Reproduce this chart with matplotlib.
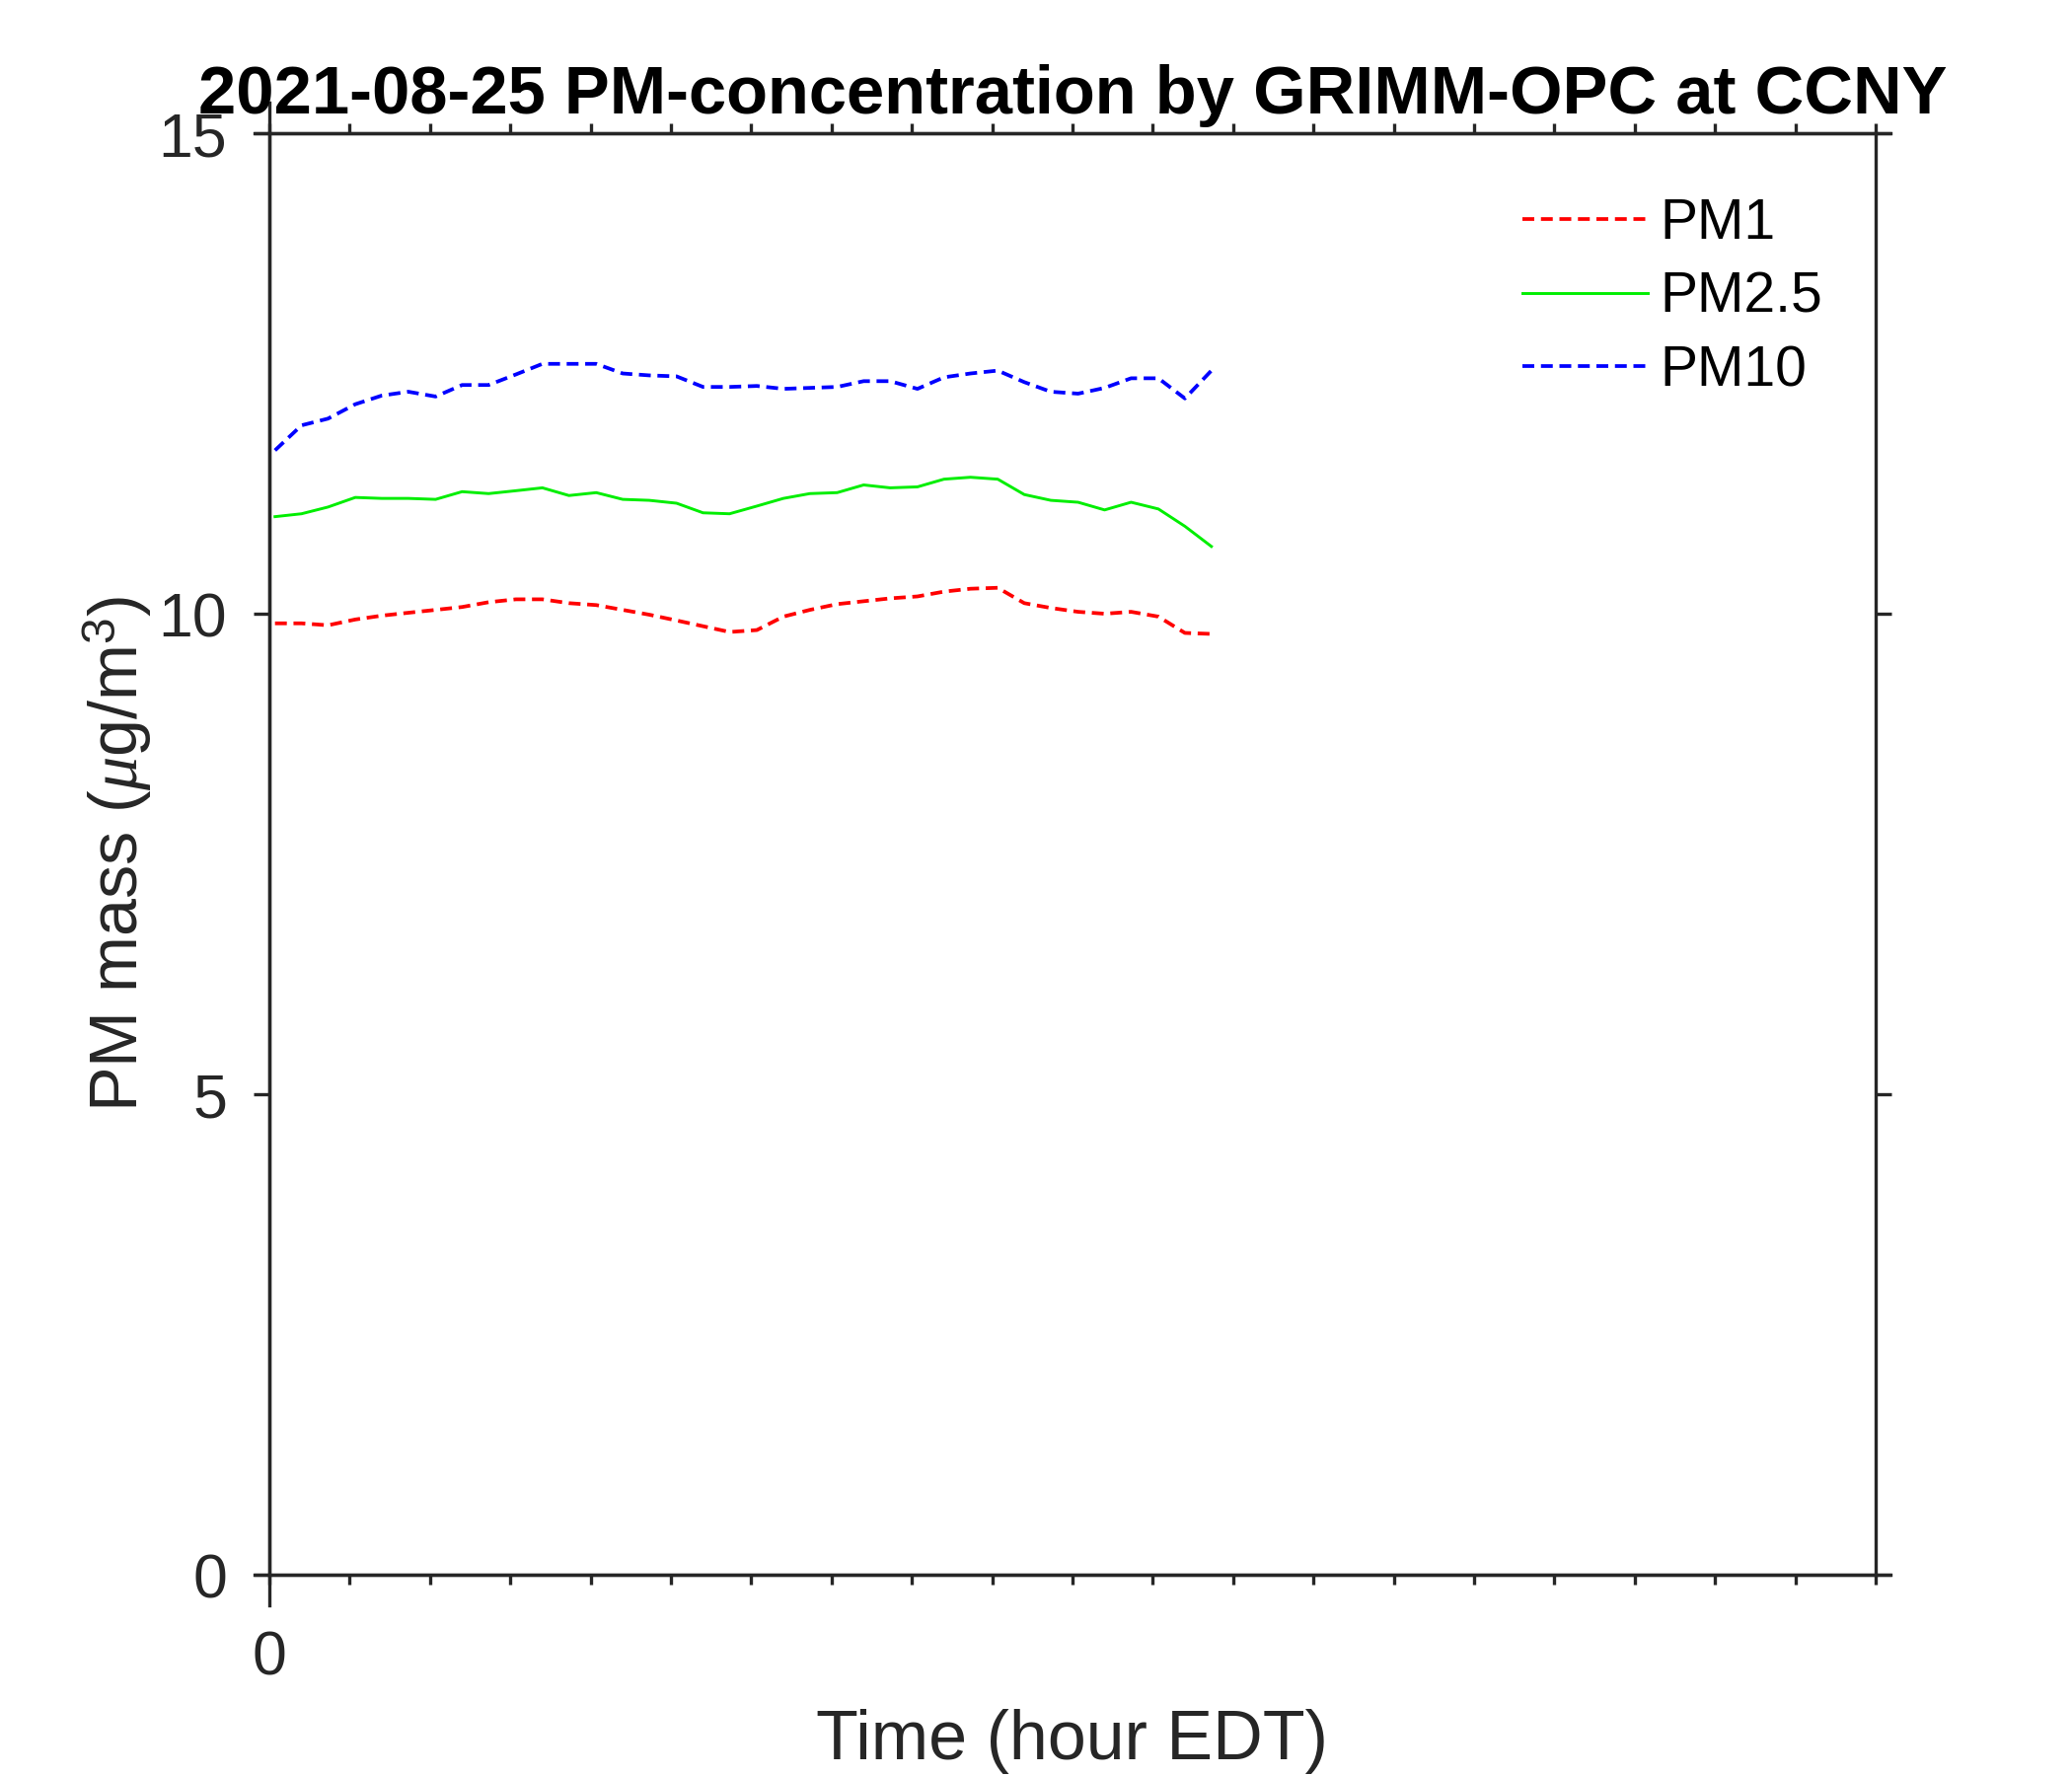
import matplotlib
matplotlib.use("Agg")
import matplotlib.pyplot as plt

# %%
# Data (20-min averages, hours EDT)

time_hr = [0.07, 0.40, 0.73, 1.07, 1.40, 1.73, 2.07, 2.40, 2.73, 3.07, 3.40, 3.73,
           4.07, 4.40, 4.73, 5.07, 5.40, 5.73, 6.07, 6.40, 6.73, 7.07, 7.40, 7.73,
           8.07, 8.40, 8.73, 9.07, 9.40, 9.73, 10.07, 10.40, 10.73, 11.07, 11.40, 11.73]

pm1 = [9.90, 9.90, 9.88, 9.94, 9.98, 10.01, 10.04, 10.07, 10.12, 10.15, 10.15, 10.11,
       10.09, 10.04, 9.99, 9.93, 9.87, 9.81, 9.83, 9.97, 10.04, 10.10, 10.13, 10.16,
       10.18, 10.23, 10.26, 10.27, 10.11, 10.06, 10.02, 10.00, 10.02, 9.97, 9.80, 9.79]

pm25 = [11.01, 11.04, 11.11, 11.21, 11.20, 11.20, 11.19, 11.27, 11.25, 11.28, 11.31, 11.23,
        11.26, 11.19, 11.18, 11.15, 11.05, 11.04, 11.12, 11.20, 11.25, 11.26, 11.34, 11.31,
        11.32, 11.40, 11.42, 11.40, 11.24, 11.18, 11.16, 11.08, 11.16, 11.09, 10.91, 10.70]

pm10 = [11.70, 11.96, 12.03, 12.18, 12.27, 12.31, 12.26, 12.38, 12.38, 12.49, 12.60, 12.60,
        12.60, 12.50, 12.48, 12.47, 12.36, 12.36, 12.37, 12.34, 12.35, 12.36, 12.42, 12.42,
        12.34, 12.46, 12.50, 12.53, 12.41, 12.31, 12.29, 12.35, 12.45, 12.45, 12.24, 12.53]

x_ticks = list(range(0, 21))
x_ticklabels = ['0'] + [''] * 20
y_ticks = [0, 5, 10, 15]

# %%
# Style (MATLAB-like look)

plt.rcParams['font.family'] = ['Liberation Sans', 'DejaVu Sans']
plt.rcParams['mathtext.fontset'] = 'custom'
plt.rcParams['mathtext.rm'] = 'Liberation Sans'
plt.rcParams['mathtext.it'] = 'Liberation Serif:italic'
plt.rcParams['mathtext.bf'] = 'Liberation Sans:bold'

axc = '#262626'

fig = plt.figure(figsize=(7, 6), dpi=300)
ax = fig.add_axes([0.130, 0.1133, 0.7752, 0.8117])

dash = (3.2, 1.8)
ax.plot(time_hr, pm1, color='#ff0000', lw=0.9, ls=(0, dash), label='PM1')
ax.plot(time_hr, pm25, color='#00ee00', lw=0.7, label='PM2.5')
ax.plot(time_hr, pm10, color='#0000ff', lw=0.9, ls=(0, dash), label='PM10')

ax.set_xlim(0, 20)
ax.set_ylim(0, 15)
ax.set_xticks(x_ticks)
ax.set_xticklabels(x_ticklabels)
ax.set_yticks(y_ticks)

for s in ax.spines.values():
    s.set_color(axc)
    s.set_linewidth(0.8)

ax.tick_params(axis='x', direction='out', top=True, length=2.4, width=0.8,
               color=axc, labelcolor=axc, labelsize=15, pad=11)
ax.tick_params(axis='y', direction='out', right=True, length=3.8, width=0.8,
               color=axc, labelcolor=axc, labelsize=15, pad=6.5)

# axis lines in the original run slightly past the box corners
ax.plot([0, 0], [-0.021, 1.021], transform=ax.transAxes, clip_on=False, color=axc, lw=0.8)
ax.plot([-0.0092, 1.0092], [0, 0], transform=ax.transAxes, clip_on=False, color=axc, lw=0.8)
ax.plot([-0.0092, 1.0092], [1, 1], transform=ax.transAxes, clip_on=False, color=axc, lw=0.8)

ax.set_xlabel('Time (hour EDT)', fontsize=16.8, color=axc, labelpad=5)
ax.set_ylabel(r'PM mass ($\mathit{\mu}$g/m$^{3}$)', fontsize=16.4, color=axc, labelpad=1)
ax.set_title('2021-08-25 PM-concentration by GRIMM-OPC at CCNY',
             fontsize=16.5, fontweight='bold', pad=4.8)

ax.legend(loc='upper left', bbox_to_anchor=(0.780, 0.9555), frameon=False,
          fontsize=13.7, handlelength=2.22, handletextpad=0.23,
          borderpad=0, borderaxespad=0, labelspacing=0.36)

fig.savefig('out.png', dpi=300, facecolor='white')
